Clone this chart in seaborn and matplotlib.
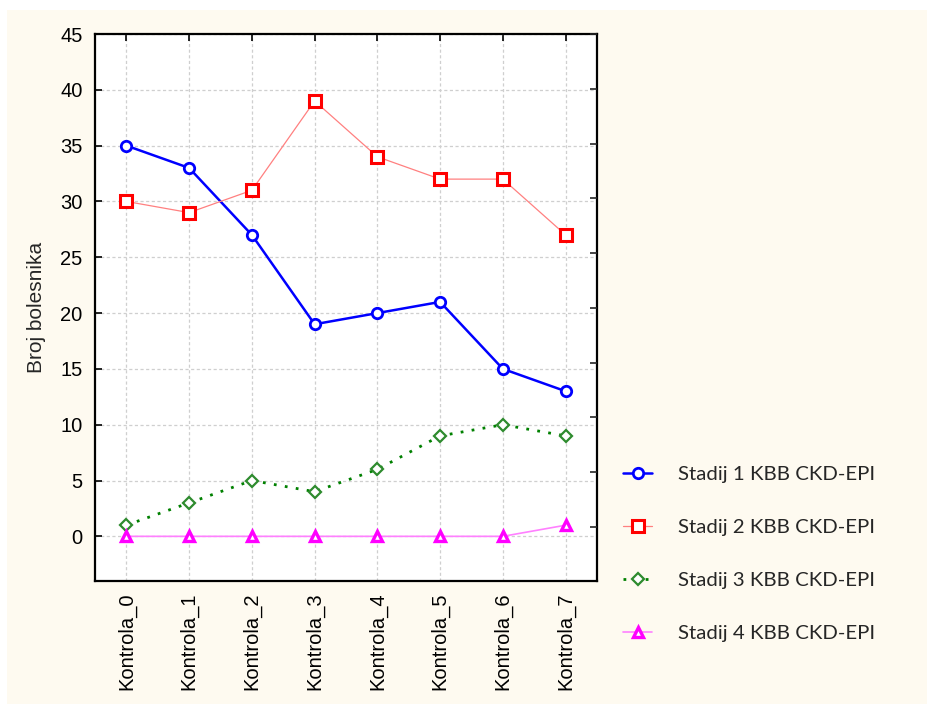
import matplotlib
matplotlib.use("Agg")
import matplotlib.pyplot as plt
import seaborn as sns
import pandas as pd
import numpy as np

categories = ["Kontrola_0", "Kontrola_1", "Kontrola_2", "Kontrola_3",
              "Kontrola_4", "Kontrola_5", "Kontrola_6", "Kontrola_7"]
stadij1 = [35, 33, 27, 19, 20, 21, 15, 13]
stadij2 = [30, 29, 31, 39, 34, 32, 32, 27]
stadij3 = [1, 3, 5, 4, 6, 9, 10, 9]
stadij4 = [0, 0, 0, 0, 0, 0, 0, 1]
labels = ["Stadij 1 KBB CKD-EPI", "Stadij 2 KBB CKD-EPI",
          "Stadij 3 KBB CKD-EPI", "Stadij 4 KBB CKD-EPI"]
yticks = [0, 5, 10, 15, 20, 25, 30, 35, 40, 45]

sns.set_style("white")
plt.rcParams["font.family"] = ["Liberation Sans", "DejaVu Sans"]

bg = "#FEFAF0"
fig = plt.figure(figsize=(9.28, 7.04), dpi=100)
fig.patch.set_facecolor("white")
fig.add_artist(plt.Rectangle((7 / 928, 0), 1, 1 - 10 / 704, transform=fig.transFigure,
                             facecolor=bg, edgecolor="none", zorder=-10))

ax = fig.add_axes([95 / 928, 1 - 581 / 704, (597 - 95) / 928, (581 - 34) / 704])
ax.set_facecolor("white")

styles = [
    dict(color="#0000FF", lw=1.8, ls="-", marker="o", ms=7.5, mec="#0000FF", mfc="white", mew=2.0),
    dict(color="#FF8080", lw=0.9, ls="-", marker="s", ms=8.0, mec="#FF0000", mfc="white", mew=2.2),
    dict(color="#008000", lw=2.0, ls=(0, (1, 3)), marker="D", ms=6, mec="#2E8B2E", mfc="white", mew=1.6),
    dict(color="#FF80FF", lw=1.2, ls="-", marker="^", ms=7.5, mec="#FF00FF", mfc="white", mew=2.4),
]
series = [stadij1, stadij2, stadij3, stadij4]
for vals, lab, st in zip(series, labels, styles):
    df = pd.DataFrame({"cat": categories, "val": vals})
    sns.lineplot(data=df, x="cat", y="val", ax=ax, label=lab, sort=False,
                 color=st["color"], linewidth=st["lw"], linestyle=st["ls"],
                 marker=st["marker"], markersize=st["ms"], markeredgecolor=st["mec"],
                 markerfacecolor=st["mfc"], markeredgewidth=st["mew"], zorder=3)

ax.set_xlim(-0.5, 7.5)
ax.set_ylim(-4, 45)
ax.set_yticks(yticks)
ax.set_xticks(range(len(categories)))
ax.set_xticklabels(categories, rotation=90, fontsize=14.5)
ax.tick_params(axis="y", labelsize=14.5, pad=9)
ax.tick_params(axis="x", pad=8)
ax.tick_params(direction="in", length=5, width=1.2, top=True, right=False, colors="black")
ax.set_xlabel("")
ax.set_ylabel("Broj bolesnika", fontsize=15)
ax.yaxis.set_label_coords(-0.098, 0.5)
ax.grid(True, color="#CFCFCF", linestyle=(0, (2.5, 2)), linewidth=0.9)
for s in ax.spines.values():
    s.set_color("black")
    s.set_linewidth(1.6)

ax2 = ax.twinx()
ax2.set_ylim(-0.986, 9.0)
ax2.set_yticks(range(10))
ax2.tick_params(direction="in", length=5, width=1.2, labelright=False)
for s in ax2.spines.values():
    s.set_visible(False)

handles, labs = ax.get_legend_handles_labels()
ax.get_legend().remove()
fig.legend(handles, labs, loc="upper left", bbox_to_anchor=(605 / 928, 1 - 447 / 704),
           frameon=False, prop={"family": ["Lato", "DejaVu Sans"], "size": 14.7},
           labelspacing=1.75, handlelength=1.4, handletextpad=1.3)

fig.savefig("out.png", dpi=100, facecolor=fig.get_facecolor())
